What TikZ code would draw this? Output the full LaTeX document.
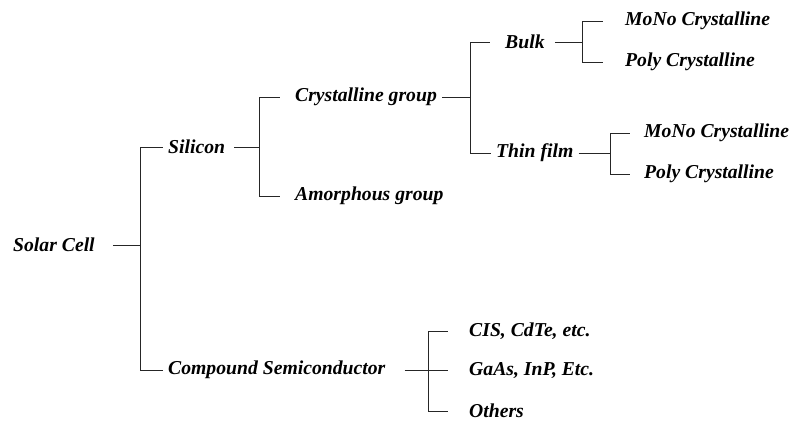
\documentclass[tikz,border=0pt]{standalone}
\usepackage{fontspec}
\setmainfont{Liberation Serif}
\usepackage{tikz}
\usetikzlibrary{positioning,calc}

\begin{document}
\begin{tikzpicture}[x=0.025cm,y=-0.025cm,
  item/.style={anchor=west,inner xsep=3.5pt,inner ysep=1pt,font=\fontsize{14}{16}\selectfont\bfseries\itshape},
  link/.style={line width=0.7pt,black!85}]
\useasboundingbox (0,0) rectangle (801,421);
% tree levels
\node[item] (solar) at (8,245) {Solar Cell};
\node[item] (silicon) at (163,147) {Silicon};
\node[item] (compound) at (163,370) {Compound Semiconductor};
\node[item] (cryst) at (290,97) {Crystalline group};
\node[item] (amorph) at (290,196) {Amorphous group};
\node[item] (bulk) at (500,42) {Bulk};
\node[item] (thin) at (491,153) {Thin film};
\node[item] (mono1) at (620,21) {MoNo Crystalline};
\node[item] (poly1) at (620,62) {Poly Crystalline};
\node[item] (mono2) at (639,133) {MoNo Crystalline};
\node[item] (poly2) at (639,174) {Poly Crystalline};
\node[item] (cis) at (464,331) {CIS, CdTe, etc.};
\node[item] (gaas) at (464,370) {GaAs, InP, Etc.};
\node[item] (others) at (464,411) {Others};
% junctions
\coordinate (j0) at (140,245);
\coordinate (j1) at (259,147);
\coordinate (j2) at (470,97);
\coordinate (j3) at (582,42);
\coordinate (j4) at (610,153);
\coordinate (j5) at (428,370);
% connectors
\draw[link,shorten <=0.325cm] (solar.east) -- (j0);
\draw[link] (j0) |- (silicon.west);
\draw[link] (j0) |- (compound.west);
\draw[link,shorten <=0.1cm] (silicon.east) -- (j1);
\draw[link,shorten >=0.25cm] (j1) |- (cryst.west);
\draw[link,shorten >=0.25cm] (j1) |- (amorph.west);
\draw[link] (cryst.east) -- (j2);
\draw[link,shorten >=0.25cm] (j2) |- (bulk.west);
\draw[link] (j2) |- (thin.west);
\draw[link,shorten <=0.125cm] (bulk.east) -- (j3);
\draw[link,shorten >=0.425cm] (j3) |- (mono1.west);
\draw[link,shorten >=0.425cm] (j3) |- (poly1.west);
\draw[link] (thin.east) -- (j4);
\draw[link,shorten >=0.225cm] (j4) |- (mono2.west);
\draw[link,shorten >=0.225cm] (j4) |- (poly2.west);
\draw[link,shorten <=0.35cm] (compound.east) -- (j5);
\draw[link,shorten >=0.4cm] (j5) |- (cis.west);
\draw[link,shorten >=0.4cm] (j5) |- (gaas.west);
\draw[link,shorten >=0.4cm] (j5) |- (others.west);
\end{tikzpicture}
\end{document}
